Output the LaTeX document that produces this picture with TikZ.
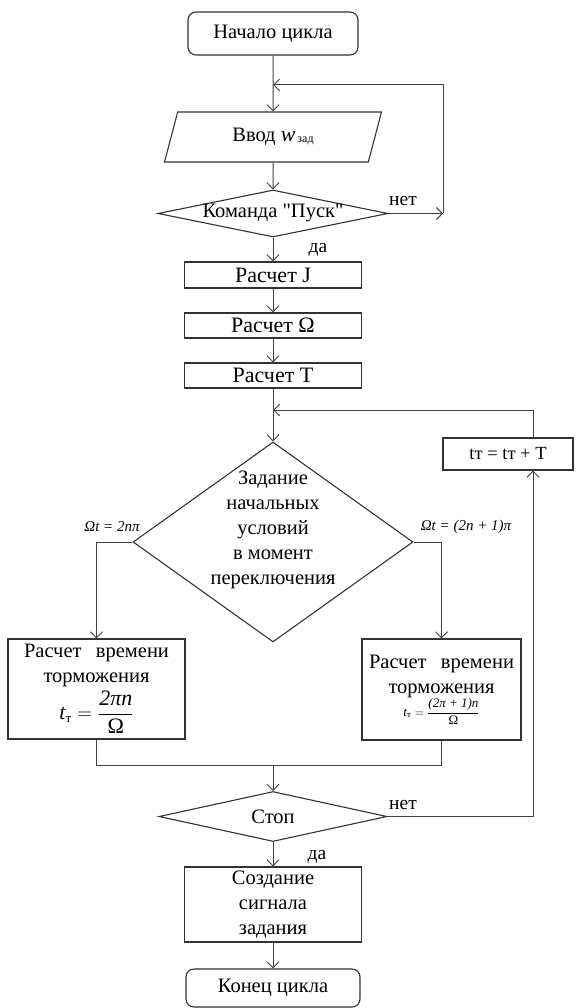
\documentclass[tikz,border=0pt]{standalone}
\usepackage{amsmath}
\usepackage{fontspec}
\setmainfont{Liberation Serif}
\font\qfont="Liberation Serif" at 20.5pt
\usetikzlibrary{arrows.meta,shapes.geometric}
\tikzset{
  conn/.style={draw=black!75, line width=1pt},
  arr/.style={conn, -{Straight Barb[length=6pt,width=12pt]}},
  txt/.style={font=\fontsize{20.5}{25}\selectfont, text=black, align=center, inner sep=0pt},
  box/.style={txt, draw=black!80, rectangle, line width=1.1pt},
  calc/.style={box, font=\fontsize{22}{25}\selectfont, minimum width=177pt},
  term/.style={box, rounded corners=8pt},
  dia/.style={draw=black!80, diamond, inner sep=0pt, line width=1.1pt},
  lbl/.style={font=\fontsize{19.5}{22}\selectfont, text=black, inner sep=0pt},
  small/.style={font=\fontsize{15}{17}\selectfont\itshape, text=black, inner sep=0pt}
}
\begin{document}
\begin{tikzpicture}[x=1pt,y=-1pt]
\useasboundingbox (0,0) rectangle (576,1008);

% nodes
\node[term, minimum width=170pt, minimum height=43pt] (start) at (273,33.5) {Начало цикла};
\node[txt, draw=black!80, line width=1.1pt, trapezium, trapezium left angle=52.8, trapezium right angle=127.2,
      trapezium stretches body, minimum width=217pt, minimum height=50pt] (inp) at (273,137)
      {Ввод {\fontsize{22}{22}\selectfont\itshape w}\raisebox{-0.1ex}{\fontsize{12}{12}\selectfont\,зад}};
\node[dia, minimum width=230pt, minimum height=47pt] (cmd) at (273,213.5) {};
\node[txt] (cmdt) at (cmd) {Команда {\qfont "}Пуск{\qfont "}};
\node[calc, minimum height=26pt] (rJ) at (273,275) {Расчет J};
\node[calc, minimum height=25pt] (rO) at (273,325.5) {Расчет Ω};
\node[calc, minimum height=25pt] (rT) at (273,375.5) {Расчет T};
\node[box, minimum width=130pt, minimum height=32pt, font=\fontsize{18.5}{20}\selectfont] (tt) at (508,454) {tт = tт + T};
\node[dia, minimum width=280pt, minimum height=200pt] (dz) at (273,542) {};
\node[txt] (dzt) at (273,530) {Задание\\начальных\\условий\\в момент\\переключения};
\node[box, minimum width=177pt, minimum height=100pt] (lbox) at (96.5,689)
  {Расчет\hspace{0.7em}времени\\торможения\\[3pt]
   {\fontsize{22}{22}\selectfont\mbox{\itshape t}$_{\mbox{\fontsize{13}{13}\selectfont т}} = \dfrac{\mbox{\itshape 2πn}}{\mbox{Ω}}$}};
\node[box, minimum width=159pt, minimum height=101pt] (rbox) at (441.5,689.5)
  {Расчет\hspace{0.7em}времени\\торможения\\[-2pt]
   {\fontsize{13}{15}\selectfont \mbox{\itshape t}$_{\mbox{\fontsize{9}{9}\selectfont т}} = \dfrac{\mbox{\itshape (2π + 1)n}}{\mbox{Ω}}$}};
\node[dia, minimum width=228pt, minimum height=50pt] (stop) at (273,816.5) {};
\node[txt] (stopt) at (stop) {Стоп};
\node[box, minimum width=177pt, minimum height=75pt] (create) at (273,904.5) {Создание\\сигнала\\задания};
\node[term, minimum width=174pt, minimum height=38pt] (end) at (273,988) {Конец цикла};

% labels
\node[lbl] (net1) at (403,201) {нет};
\node[lbl] (da1) at (318,250) {да};
\node[small] (c1) at (112,527) {Ωt = 2nπ};
\node[small] (c2) at (466,527) {Ωt = (2n + 1)π};
\node[lbl] (net2) at (403,805) {нет};
\node[lbl] (da2) at (317,857) {да};

% coordinates
\coordinate (j1) at (273,85);
\coordinate (nR) at (443,213.5);
\coordinate (j2) at (273,410);
\coordinate (fb) at (533,410);
\coordinate (m) at (273,765);

% connectors
\draw[arr] (start.south) -- (inp.north);
\draw[arr] (inp.south) -- (cmd.north);
\draw[arr] (cmd.east) -- (nR);
\draw[arr] (nR) -- (nR |- j1) -- (j1);
\draw[arr] (cmd.south) -- (rJ.north);
\draw[arr] (rJ.south) -- (rO.north);
\draw[arr] (rO.south) -- (rT.north);
\draw[arr] (rT.south) -- (dz.north);
\draw[arr] (tt.north -| fb) -- (fb) -- (j2);
\draw[arr] (dz.west) -| (lbox.north);
\draw[arr] (dz.east) -| (rbox.north);
\draw[conn] (lbox.south) -- (lbox.south |- m) -- (rbox.south |- m) -- (rbox.south);
\draw[arr] (m) -- (stop.north);
\draw[arr] (stop.east) -- (stop.east -| fb) -- (tt.south -| fb);
\draw[arr] (stop.south) -- (create.north);
\draw[arr] (create.south) -- (end.north);
\end{tikzpicture}
\end{document}
